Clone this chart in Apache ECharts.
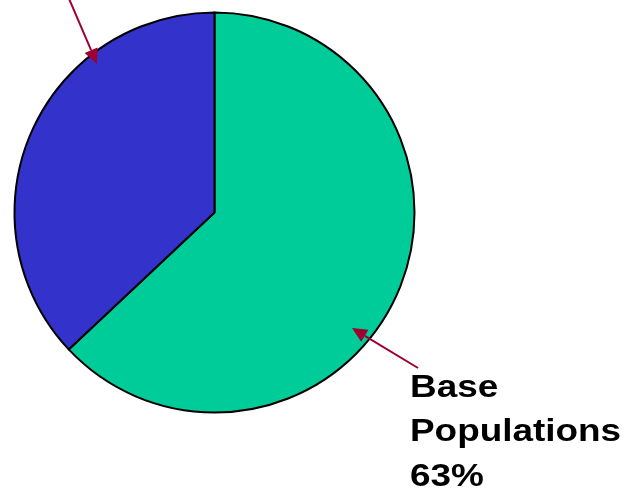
<!DOCTYPE html>
<html>
<head>
<meta charset="utf-8">
<script src="https://cdn.jsdelivr.net/npm/echarts@6/dist/echarts.min.js"></script>
<style>
  html, body { margin: 0; padding: 0; background: #fff; }
  #pie_chart { width: 633px; height: 493px; }
</style>
</head>
<body>
<div id="pie_chart"></div>
<script>
const sliceNames = ["Base Populations", "Other"];
const sliceValues = [63, 37];
const sliceColors = ["#00CC99", "#3333CC"];

const arrowColor = "#9E0030";

// arrow from tail to tip, head drawn as a small triangle
const makeArrow = (tail, tip) => {
    const dx = tip[0] - tail[0];
    const dy = tip[1] - tail[1];
    const len = Math.sqrt(dx * dx + dy * dy);
    const ux = dx / len, uy = dy / len;
    const headLen = 15, headHalf = 7;
    const bx = tip[0] - ux * headLen, by = tip[1] - uy * headLen;
    return [
        {
            type: "line",
            z: 100,
            shape: { x1: tail[0], y1: tail[1], x2: bx, y2: by },
            style: { stroke: arrowColor, lineWidth: 2 }
        },
        {
            type: "polygon",
            z: 100,
            shape: {
                points: [
                    tip,
                    [bx - uy * headHalf, by + ux * headHalf],
                    [bx + uy * headHalf, by - ux * headHalf]
                ]
            },
            style: { fill: arrowColor }
        }
    ];
};

const drawPie = () => {
    const chart = echarts.init(document.getElementById("pie_chart"));

    const labelText = sliceNames[0].split(" ").join("\n") + "\n" + sliceValues[0] + "%";

    const option = {
        animation: false,
        series: [{
            type: "pie",
            center: [214.5, 212.5],
            radius: 200,
            startAngle: 90,
            clockwise: true,
            label: { show: false },
            labelLine: { show: false },
            emphasis: { disabled: true },
            itemStyle: { borderColor: "#000", borderWidth: 2 },
            data: sliceNames.map((name, i) => ({
                name,
                value: sliceValues[i],
                itemStyle: { color: sliceColors[i] }
            }))
        }],
        graphic: [
            ...makeArrow([67, -6], [97, 64]),
            ...makeArrow([418, 368], [352, 328]),
            {
                type: "text",
                z: 100,
                x: 410,
                y: 366,
                scaleX: 1.19,
                style: {
                    text: labelText,
                    fontFamily: "Liberation Sans",
                    fontWeight: "bold",
                    fontSize: 31,
                    lineHeight: 44.5,
                    fill: "#000",
                    verticalAlign: "top",
                    align: "left"
                }
            }
        ]
    };

    chart.setOption(option);
};

document.addEventListener("DOMContentLoaded", () => {
    drawPie();
});
</script>
</body>
</html>
